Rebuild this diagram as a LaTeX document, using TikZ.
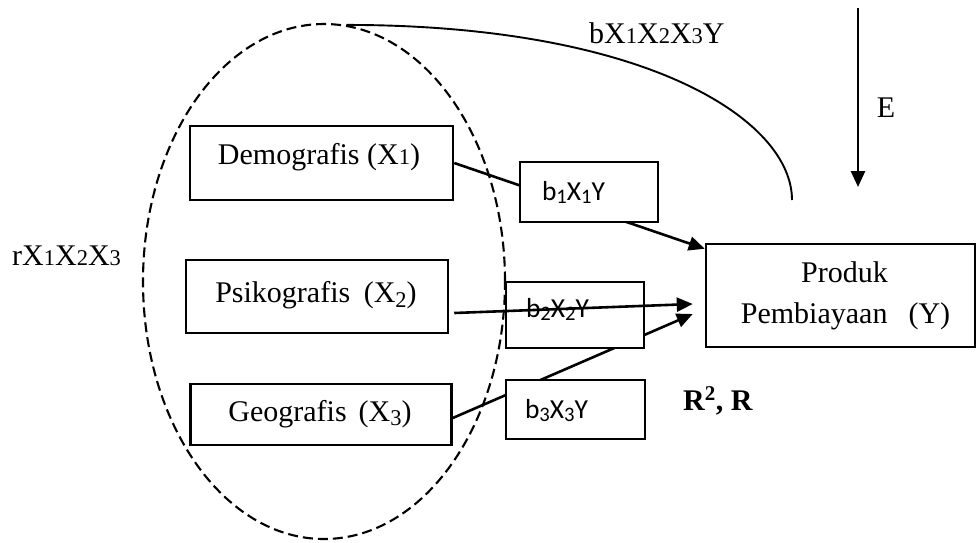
\documentclass[tikz,border=0pt]{standalone}
\usepackage{fontspec}
\setmainfont{Liberation Serif}
\newfontfamily\calfont{Carlito}
\usetikzlibrary{shapes.geometric,arrows.meta,calc}
\newcommand\sbn[1]{\scalebox{0.75}{#1}}
\newcommand\sbl[1]{\raisebox{-0.15em}{\scalebox{0.75}{#1}}}
\newcommand\sbc[1]{\raisebox{-0.12em}{\scalebox{0.75}{#1}}}
\newcommand\ctrtext[3]{\smash{\makebox[0pt]{\hspace*{#1}\raisebox{#2}{#3}}}}
\newcommand\lfttext[3]{\smash{\rlap{\hspace*{#1}\raisebox{#2}{#3}}}}
\begin{document}
\begin{tikzpicture}[x=1pt,y=-1pt,
  font=\fontsize{30}{36}\selectfont,
  varbox/.style={draw, line width=2.5pt, fill=white, inner sep=0pt},
  coefbox/.style={varbox, font=\calfont\fontsize{27.5}{33}\selectfont},
  conn/.style={line width=2.6pt, -{Triangle[length=16pt,width=14pt]}},
  lbl/.style={inner sep=0pt, anchor=base west}]
\useasboundingbox (0,0) rectangle (979,542);

\node[varbox, minimum width=263, minimum height=74] (dem) at (321.5,163)
  {\ctrtext{-5pt}{-1pt}{Demografis (X\sbn{1})}};
\node[varbox, minimum width=262, minimum height=73] (psi) at (317,296.5)
  {\ctrtext{-2pt}{-6pt}{Psikografis\hspace{0.45em}(X\sbl{2})}};
\node[varbox, minimum width=261, minimum height=61] (geo) at (321,414.5)
  {\ctrtext{-2pt}{-6.5pt}{Geografis\hspace{0.4em}(X\sbl{3})}};
\node[varbox, minimum width=269, minimum height=103] (prod) at (840.5,295.5)
  {\ctrtext{8pt}{13.5pt}{Produk}\ctrtext{10pt}{-27.5pt}{Pembiayaan\hspace{0.7em}(Y)}};

% coefficient paths passing behind the small boxes
\draw[conn] (dem.east) -- ($(prod.north west)+(0,6)$);
\draw[conn] ($(geo.east)+(0,3.5)$) -- ($(prod.west)+(-12,18.5)$);

\node[coefbox, minimum width=138, minimum height=60] (b1) at (589,192)
  {\lfttext{-47pt}{-8pt}{b\sbc{1}X\sbc{1}Y}};
\node[coefbox, minimum width=139, minimum height=59] (b3) at (575.5,409.5)
  {\lfttext{-50.5pt}{-8.5pt}{b\sbc{3}X\sbc{3}Y}};
\node[coefbox, minimum width=138, minimum height=66] (b2) at (575,315)
  {\lfttext{-49pt}{-2pt}{b\sbc{2}X\sbc{2}Y}};

\draw[conn] ($(psi.east)+(5,16.5)$) -- ($(prod.west)+(-12,8.5)$);

% dashed correlation ellipse
\node[ellipse, draw, dash pattern=on 10pt off 5pt, line width=2.1pt,
  minimum width=362, minimum height=515, inner sep=0pt] (ell) at (324,281.5) {};

% simultaneous effect curve
\coordinate (cend) at (792,200);
\draw[line width=1.9pt] (ell.85) .. controls +(300,0) and +(0,-80) .. (cend);

% error term arrow
\coordinate (etop) at (858,8);
\coordinate (ebot) at (858,187);
\draw[conn] (etop) -- (ebot);

% labels
\node[lbl] (rlab) at (12,265) {rX\sbn{1}X\sbn{2}X\sbn{3}};
\node[lbl] (blab) at (589,43) {bX\sbn{1}X\sbn{2}X\sbn{3}Y};
\node[inner sep=0pt, anchor=base] (elab) at (886,117) {E};
\node[lbl] (rsq) at (683,410) {\textbf{R\textsuperscript{2}, R}};
\end{tikzpicture}
\end{document}
